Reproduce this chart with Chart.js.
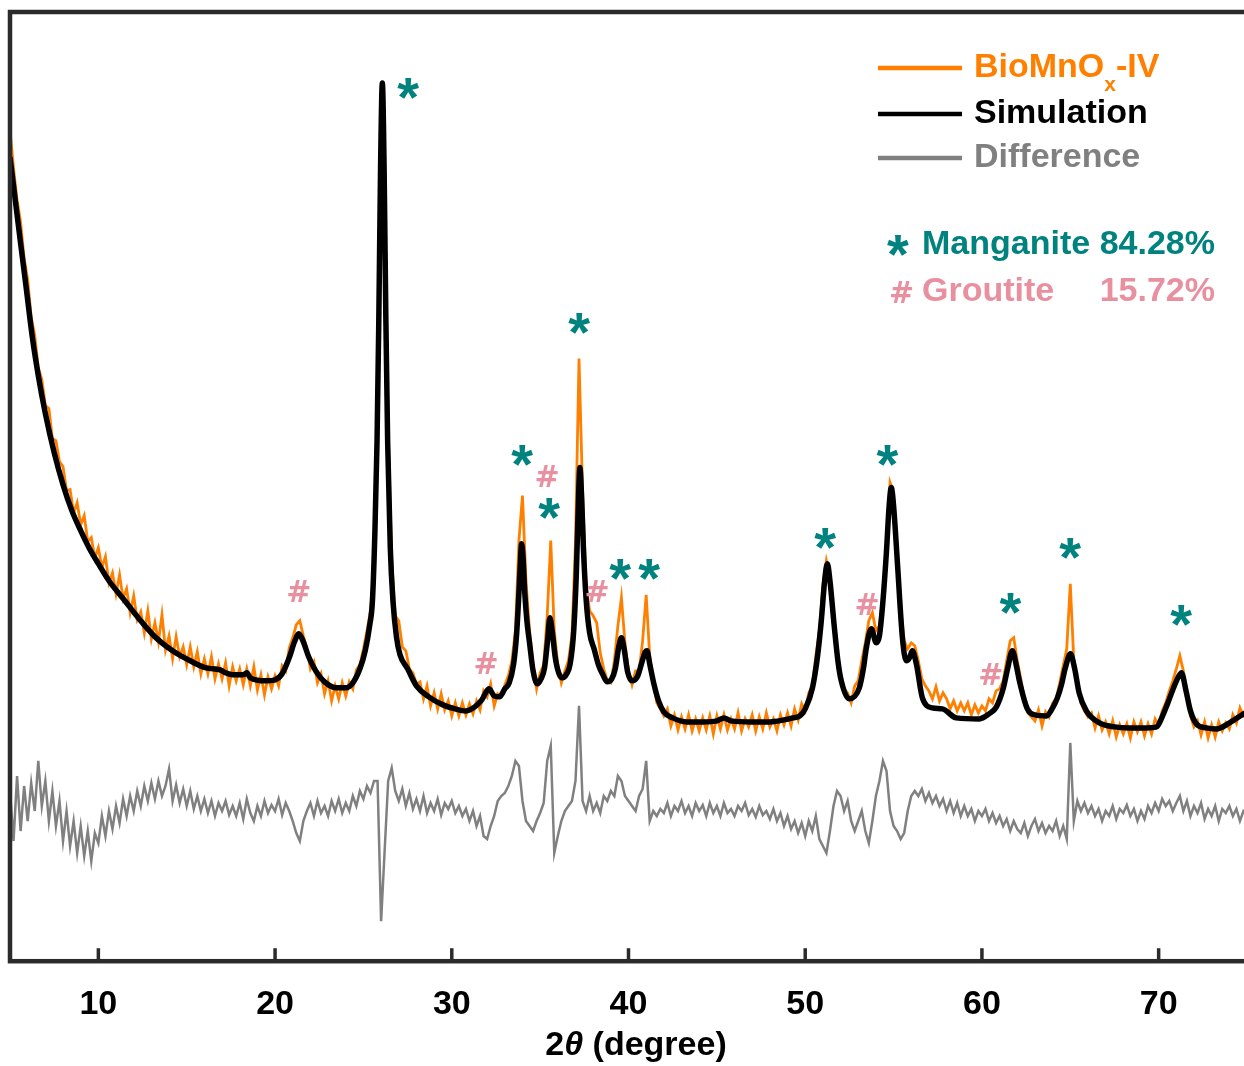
<!DOCTYPE html>
<html><head><meta charset="utf-8">
<script src="https://cdn.jsdelivr.net/npm/chart.js@4.4.1/dist/chart.umd.min.js"></script>
<style>html,body{margin:0;padding:0;background:#fff;overflow:hidden;width:1244px;height:1066px}canvas{display:block}</style>
</head><body>
<canvas id="c" width="1250" height="1066" style="width:1250px;height:1066px"></canvas>
<script>
// ---- data (2θ scan, intensity in arbitrary units) ----
const scanStart = 5, scanStep = 0.2;
const observed = [
830,792,760,738,702, 681,643,625,593,581, 555,552,522,520,499, 494,470,471,448,458, 436,445,419,423,403,
413,393,404,378,388, 367,386,362,372,348, 365,341,349,328,350, 322,338,319,346,311, 325,302,324,304,314,
296,314,294,309,287, 302,287,304,282,297, 282,298,275,294,280, 292,276,292,275,294, 271,286,266,284,272,
285,275,295,290,313, 323,336,340,325,312, 292,299,278,287,267, 280,260,275,262,278, 265,279,272,291,296,
312,330,350,392,560, 820,760,530,400,345, 340,314,310,292,288, 277,279,262,275,255, 268,252,267,251,260,
245,258,245,258,246, 257,247,260,251,270, 264,277,255,267,264, 276,285,300,330,420, 465,380,330,296,272,
288,296,345,420,330, 296,278,290,300,325, 420,602,470,375,350, 345,338,308,292,280, 278,300,335,363,318,
290,276,290,290,320, 366,305,282,258,252, 245,252,235,246,231, 244,232,246,230,242, 230,243,231,245,227,
245,232,246,231,242, 232,248,230,242,234, 246,230,244,232,248, 234,242,230,246,236, 248,235,252,241,257,
250,268,275,305,330, 375,400,385,350,312, 288,272,268,258,275, 280,300,318,340,348, 330,335,365,420,478,
468,410,352,320,312, 318,315,300,282,275, 270,262,274,260,268, 262,252,260,250,258, 250,258,246,256,248,
255,250,262,258,270, 272,280,300,320,323, 300,282,262,248,244, 240,251,235,249,244, 258,262,278,295,312,
377,300,280,258,250, 244,248,233,245,231, 239,227,240,224,236, 227,237,223,239,229, 239,225,237,227,242,
236,250,258,270,280, 292,305,290,268,245, 234,240,226,239,223, 236,224,239,230,238, 232,246,238,253,245,
248];
const difference = [
170,120,185,130,175, 140,178,150,200,155, 180,140,170,135,160, 120,150,115,140,108, 135,105,130,100,128,
118,145,125,150,132, 155,138,162,145,165, 150,170,155,175,160, 178,162,180,165,175, 192,160,176,158,172,
155,170,152,165,150, 162,148,160,145,158, 150,160,146,155,145, 158,142,162,148,140, 155,145,160,148,156,
150,162,146,158,150, 140,128,120,140,150, 158,145,160,148,155, 145,160,150,162,148, 158,150,165,155,170,
162,175,168,180,180, 40,110,180,193,170, 160,172,155,168,152, 162,150,165,148,158, 150,162,146,158,152,
160,148,155,145,152, 140,150,135,145,125, 122,135,145,160,165, 168,175,185,200,195, 160,140,135,130,140,
148,158,200,215,108, 125,140,150,155,160, 180,255,160,150,165, 150,158,148,165,160, 170,165,185,180,165,
160,155,150,165,172, 200,140,150,145,152, 148,158,145,155,150, 160,148,155,145,158, 150,156,145,158,148,
155,145,158,148,152, 145,155,150,158,146, 152,144,155,146,150, 142,152,140,148,135, 145,132,140,128,138,
125,140,130,145,122, 115,108,130,155,170, 165,150,160,140,130, 140,150,130,118,140, 165,180,200,190,150,
135,130,122,128,150, 165,170,165,172,160, 168,158,165,155,162, 150,160,148,158,145, 155,145,152,140,150,
145,152,140,148,138, 145,135,142,130,140, 132,128,138,125,135, 142,130,138,128,135, 130,140,125,135,122,
218,140,160,150,158, 148,155,145,152,140, 150,145,155,142,152, 148,156,145,152,140, 150,142,155,148,158,
150,162,155,160,150, 158,165,150,160,145, 155,148,158,142,152, 145,155,140,152,148, 155,145,152,140,150,
147];
const simTheta = [5.0,5.3,5.6,5.9,6.25,6.6,7.0,7.5,8.0,8.5,9.0,9.5,10.0,10.6,11.5,12.3,13.2,14.2,15.2,16.1,16.9,17.2,17.6,18.2,18.4,18.6,19.5,20.0,20.4,20.8,21.1,21.35,21.6,21.9,22.3,22.8,23.5,24.0,24.4,24.8,25.1,25.35,25.51,25.65,25.77,25.87,25.97,26.07,26.17,26.27,26.37,26.52,26.67,26.87,27.07,27.5,28.0,28.7,29.5,30.2,30.8,31.3,31.7,32.1,32.4,32.7,33.0,33.25,33.5,33.67,33.8,33.88,33.95,34.03,34.13,34.25,34.4,34.6,34.84,35.05,35.25,35.42,35.55,35.68,35.85,36.05,36.25,36.5,36.7,36.9,37.05,37.15,37.25,37.35,37.45,37.6,37.8,38.05,38.3,38.55,38.8,39.05,39.25,39.45,39.6,39.75,39.95,40.2,40.5,40.75,40.95,41.05,41.2,41.45,41.7,42.0,42.5,43.3,44.2,45.0,45.4,45.8,47.0,48.0,48.8,49.3,49.7,50.0,50.41,50.7,50.91,51.1,51.25,51.4,51.64,51.85,52.04,52.49,53.06,53.3,53.46,53.74,54.02,54.2,54.4,54.59,54.75,54.87,55.0,55.21,55.5,55.72,55.9,56.06,56.29,56.63,57.2,57.76,58.55,59.85,60.4,60.82,61.2,61.45,61.72,61.95,62.12,62.57,63.0,63.65,64.0,64.27,64.5,64.72,65.01,65.25,65.5,65.91,66.65,67.5,68.35,69.3,69.88,70.2,70.5,71.01,71.29,71.55,71.8,72.14,72.7,73.27,74.01,74.8,75.0];
const simCounts = [803,760,717,675,625,585,547,508,476,450,430,412,397,380,360,342,324,310,300,293,291,288,286,286,288,283,280,281,287,303,319,327,319,304,290,279,273,273,278,292,310,335,360,429,519,640,793,877,793,640,519,413,360,324,306,292,275,264,256,252,250,254,261,272,265,264,272,278,297,327,368,398,417,404,368,340,318,290,277,282,293,320,343,330,304,288,283,287,297,330,388,450,493,462,412,362,328,312,296,286,279,282,292,314,323,312,289,280,284,298,309,310,297,276,260,249,243,239,239,240,243,240,239,239,241,243,245,252,273,305,340,380,397,380,335,300,280,262,273,293,313,332,318,325,360,407,455,473,455,400,323,300,303,310,297,263,253,252,243,242,247,254,272,292,310,295,280,252,246,245,253,263,276,293,307,292,268,250,238,234,233,233,234,244,257,280,288,270,250,237,233,232,238,247,249];
const xTickValues = [10,20,30,40,50,60,70];
// phase reflection markers
const markerSymbol = ['*','#','#','*','#','*','*','#','*','*','*','#','*','#','*','*','*'];
const markerTheta  = [27.54,21.37,31.96,33.99,35.41,35.52,37.22,38.24,39.54,41.18,51.14,53.52,54.65,60.53,61.61,65.0,71.28];
const markerLevel  = [872,370,298,505,485,452,637,370,391,391,422,357,505,287,357,412,345];
const seriesNames = ['BioMnO_x-IV','Simulation','Difference'];
const phaseNames = ['Manganite','Groutite'];
const phaseShares = ['84.28%','15.72%'];
const phaseSymbols = ['*','#'];
const axisTitle = ['2','θ',' (degree)'];

const ORANGE = '#ff8000', BLACK = '#000000', GRAY = '#808080', TEAL = '#00827e', PINK = '#e8909f';
const FONT = "'Liberation Sans', Arial, Helvetica, sans-serif";
const STAR_FONT = 'bold 56px ' + FONT, HASH_FONT = "bold 30px 'DejaVu Sans', sans-serif", TXT_FONT = 'bold 34px ' + FONT;

const obsPts = observed.map((v,i)=>({x: +(scanStart + i*scanStep).toFixed(2), y: v}));
const diffPts = difference.map((v,i)=>({x: +(scanStart + i*scanStep).toFixed(2), y: v}));
const simPts = simTheta.map((t,i)=>({x: t, y: simCounts[i]}));

function drawGlyphCentered(ctx, s, cx, cy, font, color){
  ctx.font = font; ctx.fillStyle = color; ctx.textAlign = 'left'; ctx.textBaseline = 'alphabetic';
  const m = ctx.measureText(s);
  const w = m.actualBoundingBoxRight + m.actualBoundingBoxLeft;
  const x0 = cx - w/2 + m.actualBoundingBoxLeft;
  const y0 = cy + (m.actualBoundingBoxAscent - m.actualBoundingBoxDescent)/2;
  ctx.fillText(s, x0, y0);
}

const overlay = {
  id: 'overlay',
  afterDatasetsDraw(chart){
    const {ctx, chartArea: a, scales: {x, y}} = chart;
    ctx.save();
    // frame
    ctx.strokeStyle = '#2b2b2b'; ctx.lineWidth = 4.5;
    ctx.strokeRect(a.left, a.top, a.right - a.left, a.bottom - a.top);
    // inward ticks
    ctx.lineWidth = 3.5;
    xTickValues.forEach(v => { const px = x.getPixelForValue(v); ctx.beginPath(); ctx.moveTo(px, a.bottom); ctx.lineTo(px, a.bottom - 13); ctx.stroke(); });
    // markers
    markerSymbol.forEach((s,i) => {
      const star = s === '*';
      drawGlyphCentered(ctx, s, x.getPixelForValue(markerTheta[i]), y.getPixelForValue(markerLevel[i]),
        star ? STAR_FONT : HASH_FONT, star ? TEAL : PINK);
    });
    // legend
    const colors = [ORANGE, BLACK, GRAY];
    const rows = [68, 114, 158];
    seriesNames.forEach((n,i) => {
      ctx.strokeStyle = colors[i]; ctx.lineWidth = 4.5;
      ctx.beginPath(); ctx.moveTo(878, rows[i]); ctx.lineTo(962, rows[i]); ctx.stroke();
      ctx.fillStyle = colors[i]; ctx.textBaseline = 'middle'; ctx.textAlign = 'left';
      let xx = 974;
      const parts = n.split(/_(.)/);
      parts.forEach((p,k) => {
        if (k % 2 === 1) { ctx.font = 'bold 21px ' + FONT; ctx.fillText(p, xx, rows[i] + 17); }
        else { ctx.font = TXT_FONT; ctx.fillText(p, xx, rows[i]); }
        xx += ctx.measureText(p).width;
      });
    });
    const pRows = [245, 292], pCol = [TEAL, PINK];
    phaseNames.forEach((n,i) => {
      drawGlyphCentered(ctx, phaseSymbols[i], i === 0 ? 898 : 902, pRows[i], i === 0 ? STAR_FONT : HASH_FONT, pCol[i]);
      ctx.font = TXT_FONT; ctx.fillStyle = pCol[i]; ctx.textBaseline = 'middle';
      ctx.textAlign = 'left'; ctx.fillText(n, 922, pRows[i]);
      ctx.textAlign = 'right'; ctx.fillText(phaseShares[i], 1215, pRows[i]);
    });
    // axis title
    ctx.fillStyle = '#000'; ctx.textAlign = 'left'; ctx.textBaseline = 'middle';
    const fonts = [TXT_FONT, 'italic bold 34px ' + FONT, TXT_FONT];
    let tw = 0; axisTitle.forEach((p,k)=>{ ctx.font = fonts[k]; tw += ctx.measureText(p).width; });
    let tx = 636 - tw/2;
    axisTitle.forEach((p,k)=>{ ctx.font = fonts[k]; ctx.fillText(p, tx, 1046); tx += ctx.measureText(p).width; });
    ctx.restore();
  }
};

new Chart(document.getElementById('c'), {
  type: 'line',
  data: { datasets: [
    { label: 'Simulation', data: simPts, borderColor: BLACK, borderWidth: 5.5, pointRadius: 0, cubicInterpolationMode: 'monotone', fill: false },
    { label: 'BioMnOx-IV', data: obsPts, borderColor: ORANGE, borderWidth: 2.8, pointRadius: 0, tension: 0, fill: false },
    { label: 'Difference', data: diffPts, borderColor: GRAY, borderWidth: 2.5, pointRadius: 0, tension: 0, fill: false }
  ]},
  options: {
    responsive: false, animation: false, devicePixelRatio: 1,
    layout: { padding: { left: 10, top: 12, right: 3, bottom: 18 } },
    plugins: { legend: { display: false }, tooltip: { enabled: false } },
    scales: {
      x: { type: 'linear', min: 5, max: 75,
        afterBuildTicks: s => { s.ticks = xTickValues.map(v => ({ value: v })); },
        grid: { display: false, drawTicks: false }, border: { display: false },
        ticks: { padding: 23, color: '#000', font: { family: FONT, size: 34, weight: 'bold' }, maxRotation: 0, autoSkip: false }
      },
      y: { display: false, min: 0, max: 948 }
    }
  },
  plugins: [overlay]
});
</script>
</body></html>
